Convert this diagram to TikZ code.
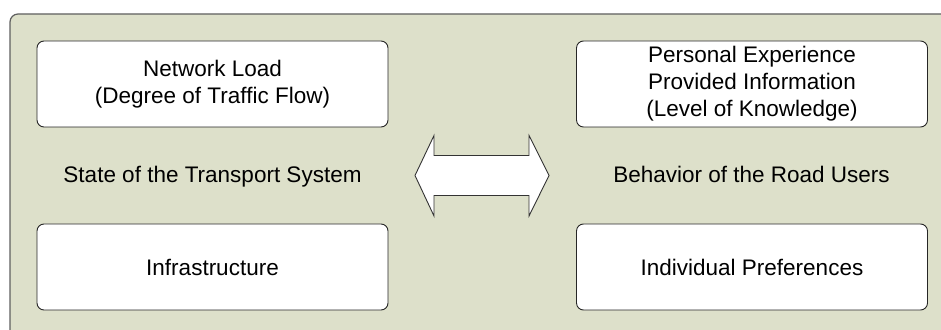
\documentclass[tikz,border=0pt]{standalone}
\usepackage{fontspec}
\setmainfont{Liberation Sans}
\definecolor{panelgreen}{HTML}{DDE0CA}
\definecolor{panelrim}{HTML}{5F5F5F}
\begin{document}
\begin{tikzpicture}[x=1pt,y=1pt,
    factor/.style={draw=black!85,fill=white,rounded corners=7pt,line width=0.9pt,
      minimum width=351pt,minimum height=86pt,align=center,
      font=\fontsize{22.5}{27}\selectfont},
    side/.style={anchor=base,font=\fontsize{22.5}{27}\selectfont}]
  \useasboundingbox (0,0) rectangle (941,329);
  \begin{scope}
    \clip (0,0) rectangle (941,329);
    \draw[draw=panelrim,fill=panelgreen,line width=1.2pt,rounded corners=8pt]
      (10,315) rectangle (960,-20);
  \end{scope}
  \draw
    (212.5,245) node[factor] (load){Network Load\\(Degree of Traffic Flow)}
    (212.5,62) node[factor] (infra){Infrastructure}
    (752,245) node[factor] (know){Personal Experience\\Provided Information\\(Level of Knowledge)}
    (752,62) node[factor] (pref){Individual Preferences}
    (212.5,146) node[side] (state){State of the Transport System}
    (751.5,146) node[side] (users){Behavior of the Road Users};
  \coordinate (link) at (482,153.5);
  \draw[fill=white,draw=black!80,line width=0.9pt]
    ([xshift=-67pt]link) -- ++(19,40) -- ++(0,-20) -- ++(95,0) -- ++(0,20)
    -- ([xshift=67pt]link) -- ++(-20,-40.5) -- ++(0,20.5) -- ++(-95,0)
    -- ++(0,-20.5) -- cycle;
\end{tikzpicture}
\end{document}
